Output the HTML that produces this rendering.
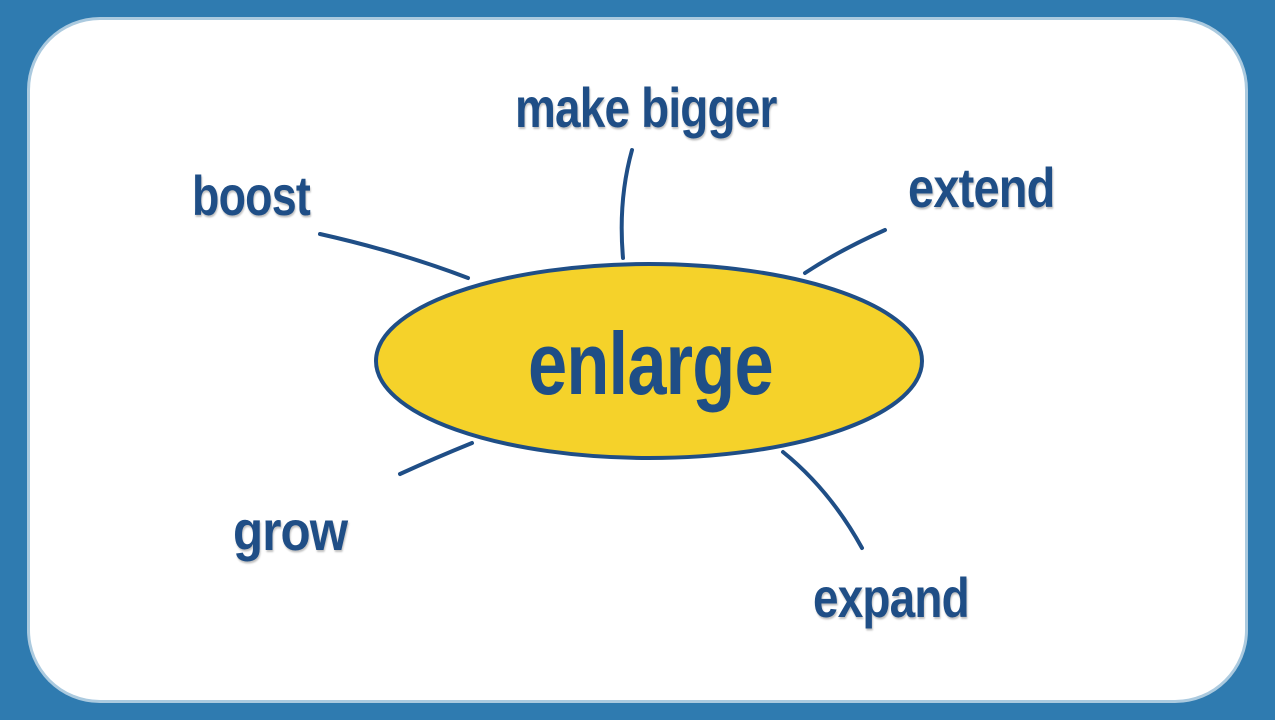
<!DOCTYPE html>
<html><head><meta charset="utf-8"><style>
html,body{margin:0;padding:0}
body{width:1275px;height:720px;background:#2f7bb0;position:relative;overflow:hidden;font-family:"Liberation Sans",sans-serif}
.card{position:absolute;left:30px;top:20px;width:1215px;height:680px;background:#fff;border-radius:70px;box-shadow:0 0 0 3px rgba(255,255,255,0.6)}
.t{position:absolute;color:#1f4e86;font-weight:bold;white-space:nowrap;line-height:1;text-shadow:1px 2px 2px rgba(0,0,0,0.25);transform-origin:0 0;letter-spacing:-1px}
</style></head><body>
<div class="card"></div>
<svg width="1275" height="720" style="position:absolute;left:0;top:0">
<g fill="none" stroke="#1f4e86" stroke-width="4" stroke-linecap="round">
<path d="M320,234 Q400,252 468,278"/>
<path d="M632,150 Q618,200 623,258"/>
<path d="M885,230 Q840,250 805,273"/>
<path d="M472,443 Q435,458 400,474"/>
<path d="M783,452 Q830,490 862,548"/>
</g>
<ellipse cx="649" cy="361" rx="273" ry="97" fill="#f5d22a" stroke="#1f4e86" stroke-width="4"/>
</svg>
<div class="t" style="left:515px;top:80px;font-size:56px;transform:scaleX(0.82)">make bigger</div>
<div class="t" style="left:192px;top:168px;font-size:56px;transform:scaleX(0.8)">boost</div>
<div class="t" style="left:908px;top:160px;font-size:56px;transform:scaleX(0.84)">extend</div>
<div class="t" style="left:233px;top:503px;font-size:56px;transform:scaleX(0.88)">grow</div>
<div class="t" style="left:813px;top:570px;font-size:56px;transform:scaleX(0.82)">expand</div>
<div class="t" style="left:528px;top:320px;font-size:88px;transform:scaleX(0.8);text-shadow:none">enlarge</div>
</body></html>
